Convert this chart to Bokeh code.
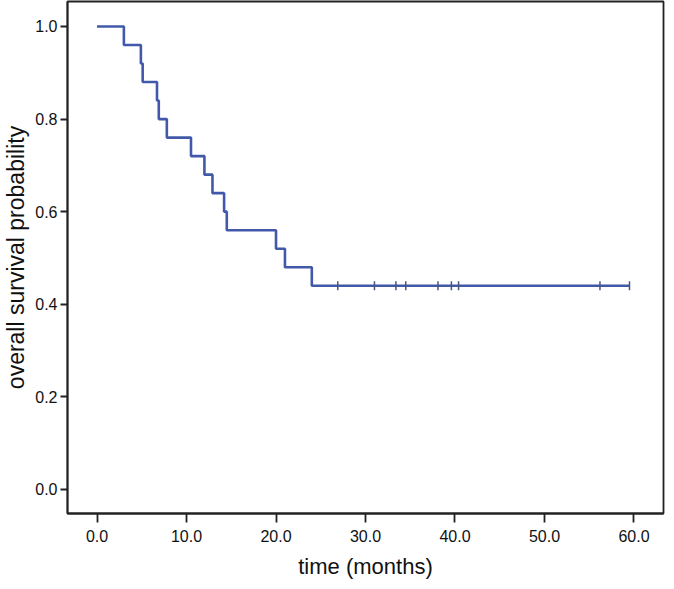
from bokeh.plotting import figure
from bokeh.models import FixedTicker, NumeralTickFormatter, Range1d
from bokeh.embed import file_html
from bokeh.resources import INLINE

# Kaplan-Meier step data (event times and survival after each step)
event_times = [0.0, 3.0, 4.9, 5.1, 6.7, 6.9, 7.8, 10.5, 12.0, 12.9, 14.2, 14.5, 20.0, 21.0, 24.0, 59.5]
survival = [1.0, 0.96, 0.92, 0.88, 0.84, 0.80, 0.76, 0.72, 0.68, 0.64, 0.60, 0.56, 0.52, 0.48, 0.44, 0.44]
# censored observations
censor_times = [26.9, 31.0, 33.4, 34.5, 38.1, 39.6, 40.4, 56.2, 59.5]
censor_surv = [0.44] * len(censor_times)

x_ticks = [0, 10, 20, 30, 40, 50, 60]
y_ticks = [0.0, 0.2, 0.4, 0.6, 0.8, 1.0]

LINE = "#4259aa"
FONT = "Liberation Sans"

p = figure(width=666, height=581, output_backend="svg", toolbar_location=None,
           x_range=Range1d(-3.3, 63.3), y_range=Range1d(-0.052, 1.054),
           min_border_left=0, min_border_right=3, min_border_top=1, min_border_bottom=0)

p.step(event_times, survival, mode="after", line_color=LINE, line_width=2.6)
p.scatter(censor_times, censor_surv, marker="dash", angle=1.5708, size=9,
          line_color="#4a5580", line_width=1.5)

p.background_fill_color = "white"
p.border_fill_color = "white"
p.outline_line_color = "#222222"
p.outline_line_width = 1.8
p.grid.grid_line_color = None

for ax in (p.xaxis, p.yaxis):
    ax.axis_line_color = "#222222"
    ax.axis_line_width = 1.8
    ax.major_tick_line_color = "#222222"
    ax.major_tick_line_width = 1.8
    ax.major_tick_in = 0
    ax.minor_tick_line_color = None
    ax.major_label_text_font = FONT
    ax.major_label_text_font_size = "16px"
    ax.major_label_text_color = "#111111"
    ax.axis_label_text_font = FONT
    ax.axis_label_text_font_style = "normal"
    ax.axis_label_text_color = "#111111"

p.xaxis.major_tick_out = 9
p.yaxis.major_tick_out = 7
p.xaxis.axis_label_text_font_size = "22px"
p.yaxis.axis_label_text_font_size = "23px"
p.xaxis.ticker = FixedTicker(ticks=x_ticks)
p.yaxis.ticker = FixedTicker(ticks=y_ticks)
p.xaxis.formatter = NumeralTickFormatter(format="0.0")
p.yaxis.formatter = NumeralTickFormatter(format="0.0")
p.xaxis.axis_label = "time (months)"
p.yaxis.axis_label = "overall survival probability"
p.xaxis.major_label_standoff = 7
p.yaxis.major_label_standoff = 3
p.xaxis.axis_label_standoff = 9
p.yaxis.axis_label_standoff = 3

open("out.html", "w").write(file_html(p, INLINE))
